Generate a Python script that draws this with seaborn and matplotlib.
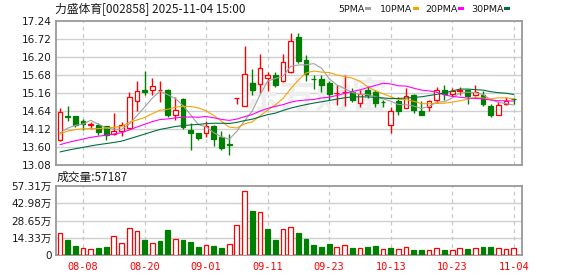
import numpy as np
import pandas as pd
import matplotlib
matplotlib.use("Agg")
import matplotlib.pyplot as plt
from matplotlib.patches import Rectangle
import seaborn as sns

# ---------------- data ----------------
dates = ["08-05", "08-06", "08-07", "08-08", "08-11", "08-12", "08-13", "08-14", "08-15", "08-18",
         "08-19", "08-20", "08-21", "08-22", "08-25", "08-26", "08-27", "08-28", "08-29",
         "09-01", "09-02", "09-03", "09-04", "09-05", "09-08", "09-09", "09-10", "09-11", "09-12",
         "09-15", "09-16", "09-17", "09-18", "09-19", "09-22", "09-23", "09-24", "09-25", "09-26",
         "09-29", "09-30",
         "10-09", "10-10", "10-13", "10-14", "10-15", "10-16", "10-17", "10-20", "10-21", "10-22",
         "10-23", "10-24", "10-27", "10-28", "10-29", "10-30", "10-31",
         "11-03", "11-04"]

opens = [13.80, 14.50, 14.48, 14.34, 14.23, 14.22, 14.19, 13.98, 14.05, 14.14,
         14.92, 15.24, 15.26, 15.24, 15.26, 14.51, 14.99, 14.08, 14.00, 14.00,
         14.21, 13.88, 13.69, 15.01, 14.78, 15.46, 15.43, 15.60, 15.67, 15.50,
         15.76, 16.78, 16.11, 15.58, 15.57, 15.44, 15.15, 15.18, 15.19, 14.88,
         15.26, 15.19, 14.90, 14.24, 14.92, 14.72, 15.09, 14.63, 14.75, 14.97,
         15.26, 15.13, 15.22, 15.26, 15.11, 15.09, 14.77, 14.53, 14.84, 15.00]
highs = [14.72, 14.77, 14.49, 14.41, 14.32, 14.28, 14.21, 14.57, 14.31, 15.19,
         15.50, 15.81, 15.60, 15.50, 15.27, 15.04, 15.01, 14.29, 14.01, 14.34,
         14.24, 14.05, 13.98, 15.01, 16.52, 15.85, 16.29, 15.77, 15.77, 16.29,
         16.90, 16.90, 16.25, 15.67, 15.67, 15.50, 15.39, 15.68, 15.31, 15.26,
         15.37, 15.26, 14.97, 14.74, 15.04, 15.31, 15.13, 14.94, 14.97, 15.33,
         15.40, 15.31, 15.33, 15.28, 15.38, 15.23, 14.84, 14.92, 15.04, 15.02]
lows = [13.78, 14.34, 14.16, 14.10, 14.12, 13.93, 13.80, 13.93, 13.90, 14.12,
        14.65, 15.09, 15.11, 14.89, 14.45, 14.38, 14.12, 13.52, 13.80, 13.87,
        13.61, 13.50, 13.36, 14.84, 14.78, 15.10, 15.16, 15.23, 15.33, 15.48,
        15.74, 16.03, 15.50, 15.28, 15.19, 14.97, 14.81, 14.78, 14.90, 14.74,
        15.02, 14.74, 14.74, 14.00, 14.53, 14.72, 14.58, 14.51, 14.65, 14.87,
        14.97, 15.06, 15.09, 14.85, 15.06, 14.77, 14.46, 14.53, 14.80, 14.84]
closes = [14.60, 14.47, 14.24, 14.26, 14.27, 14.02, 13.95, 14.05, 14.24, 15.04,
          15.22, 15.20, 15.35, 15.26, 14.53, 14.66, 14.17, 14.00, 13.86, 14.19,
          13.83, 13.56, 13.65, 15.01, 15.71, 15.25, 15.88, 15.67, 15.40, 16.05,
          16.66, 16.08, 15.71, 15.56, 15.40, 15.13, 15.17, 15.20, 14.97, 15.14,
          15.09, 14.87, 14.89, 14.63, 14.65, 15.06, 14.68, 14.53, 14.94, 15.26,
          15.13, 15.21, 15.24, 15.08, 15.19, 14.85, 14.51, 14.80, 14.92, 14.98]
# volume in 万 (10k)
volumes = [18.2, 12.7, 7.7, 5.8, 5.0, 6.1, 6.9, 16.0, 9.9, 22.3,
           20.1, 12.7, 9.9, 11.9, 21.0, 13.2, 12.7, 11.0, 6.9, 8.3,
           7.7, 6.1, 9.1, 24.8, 53.2, 36.7, 35.6, 21.8, 12.7, 21.8,
           23.2, 18.5, 13.8, 8.5, 7.2, 9.4, 6.6, 8.3, 6.3, 6.1,
           6.9, 7.7, 5.2, 6.3, 5.2, 6.9, 4.7, 4.7, 4.4, 6.1,
           4.7, 4.4, 6.1, 5.5, 6.1, 6.9, 6.9, 6.1, 5.2, 5.72]
# closes before the visible window (for moving averages), oldest first
prior_closes = [12.95, 12.98, 13.05, 13.00, 12.92, 13.02, 13.08, 13.10, 13.06, 13.14,
                13.18, 13.22, 13.30, 13.26, 13.35, 13.40, 13.38, 13.45, 13.50, 13.46,
                13.62, 13.80, 14.05, 14.18, 14.05,
                13.77, 13.84, 14.06, 13.73]

tick_dates = ["08-08", "08-20", "09-01", "09-11", "09-23", "10-13", "10-23", "11-04"]
price_ticks = [13.08, 13.60, 14.12, 14.64, 15.16, 15.68, 16.20, 16.72, 17.24]
vol_ticks = [0, 14.33, 28.65, 42.98, 57.31]
vol_tick_labels = ["0", "14.33万", "28.65万", "42.98万", "57.31万"]
ma_periods = [5, 10, 20, 30]
ma_names = ["5PMA", "10PMA", "20PMA", "30PMA"]
title = "力盛体育[002858] 2025-11-04 15:00"
vol_title = "成交量:57187"

# ---------------- style ----------------
RED = "#ff0000"
GREEN = "#008000"
MA_COLORS = ["#a0a0a0", "#f5a300", "#ff00ff", "#00703c"]
GRID = "#d0d0d0"
SPINE = "#999999"
TXT = "#1a1a1a"

sns.set_theme(style="white")
plt.rcParams["font.family"] = ["DejaVu Sans", "Noto Sans CJK SC"]

W, H = 578, 276
fig = plt.figure(figsize=(W / 100, H / 100), dpi=100)
fig.patch.set_facecolor("white")

def fx(px):
    return px / W

def fy(py):
    return 1 - py / H

axp = fig.add_axes([fx(56), fy(164.7), fx(522) - fx(56), fy(21.3) - fy(164.7)])
axv = fig.add_axes([fx(56), fy(255.3), fx(522) - fx(56), fy(186) - fy(255.3)])

n = len(closes)
x = np.arange(n)
o = np.array(opens)
c = np.array(closes)
hi = np.array(highs)
lo = np.array(lows)

# ---------- price panel ----------
candle_up = c >= o
col = np.where(candle_up, RED, GREEN)
axp.vlines(x, lo, hi, colors=col, lw=1.0, zorder=3)
body_h = np.maximum(np.abs(c - o), 0.006)
body_b = np.minimum(o, c)
axp.bar(x, body_h, bottom=body_b, width=0.62,
        color=np.where(candle_up, "white", GREEN), edgecolor=col,
        linewidth=0.9, zorder=4)

full = pd.Series(list(prior_closes) + list(closes))
off = len(prior_closes)
for p, mc in zip(ma_periods, MA_COLORS):
    ma = full.rolling(p).mean().iloc[off:].to_numpy()
    sns.lineplot(x=x, y=ma, ax=axp, color=mc, lw=0.8, zorder=5, legend=False)

axp.text(33.3, 15.05, "东方财富", fontsize=26, color="#eeeeee", ha="center", va="center",
         family=["Noto Sans CJK SC"], fontweight="bold", zorder=1)

axp.set_ylim(price_ticks[0], price_ticks[-1])
axp.set_yticks(price_ticks)
axp.set_yticklabels([f"{t:.2f}" for t in price_ticks])

# ---------- volume panel ----------
dirs = ["up" if (c[i] >= (c[i - 1] if i > 0 else prior_closes[-1])) else "down" for i in range(n)]
dfv = pd.DataFrame({"i": x, "vol": volumes, "dir": dirs})
sns.barplot(data=dfv, x="i", y="vol", hue="dir", palette={"up": RED, "down": GREEN},
            native_scale=True, dodge=False, width=0.62, legend=False, errorbar=None,
            saturation=1, ax=axv, zorder=4)
for patch in axv.patches:
    fcol = matplotlib.colors.to_hex(patch.get_facecolor())
    if fcol == RED:
        patch.set_facecolor("white")
        patch.set_edgecolor(RED)
    else:
        patch.set_edgecolor(GREEN)
    patch.set_linewidth(0.9)
    patch.set_zorder(4)

axv.set_ylim(0, vol_ticks[-1])
axv.set_yticks(vol_ticks)
axv.set_yticklabels(vol_tick_labels)

tick_idx = [dates.index(d) for d in tick_dates]
for ax in (axp, axv):
    ax.set_xlim(-0.52, 60.08)
    ax.set_facecolor("white")
    ax.set_xlabel("")
    ax.set_ylabel("")
    for yv in ax.get_yticks()[1:-1]:
        ax.axhline(yv, color=GRID, lw=1.0, zorder=0)
    for t in tick_idx:
        ax.axvline(t, color="#c8c8c8", lw=0.9, ls=(0, (3, 3)), zorder=0)
    for s in ax.spines.values():
        s.set_color(SPINE)
        s.set_linewidth(1.3)
    ax.tick_params(axis="y", length=0, pad=3, labelsize=7.5, labelcolor=TXT)
    ax.grid(False)

axp.set_xticks([])
axv.set_xticks(tick_idx)
axv.set_xticklabels(tick_dates, family="DejaVu Sans Mono", fontsize=7.4, color=RED)
axv.tick_params(axis="x", length=0, pad=5)

# ---------- texts ----------
fig.text(fx(55), fy(9.5), title, fontsize=8.5, color=TXT, va="center", ha="left",
         family=["Noto Sans CJK SC", "DejaVu Sans"])
fig.text(fx(57), fy(177), vol_title, fontsize=8.5, color=TXT, va="center", ha="left",
         family=["Noto Sans CJK SC", "DejaVu Sans"])

label_x = [338, 380, 425.7, 471.3]
sw_x = [364.7, 412.7, 458.3, 504]
for name, mc, lx, sx in zip(ma_names, MA_COLORS, label_x, sw_x):
    fig.text(fx(lx), fy(9), name, fontsize=6.8, color=TXT, va="center", ha="left",
             family=["DejaVu Sans"])
    fig.patches.append(Rectangle((fx(sx), fy(10.3)), fx(6), fy(7.3) - fy(10.3),
                                 transform=fig.transFigure, facecolor=mc, edgecolor="none"))

fig.savefig("out.png", dpi=100, facecolor="white")
